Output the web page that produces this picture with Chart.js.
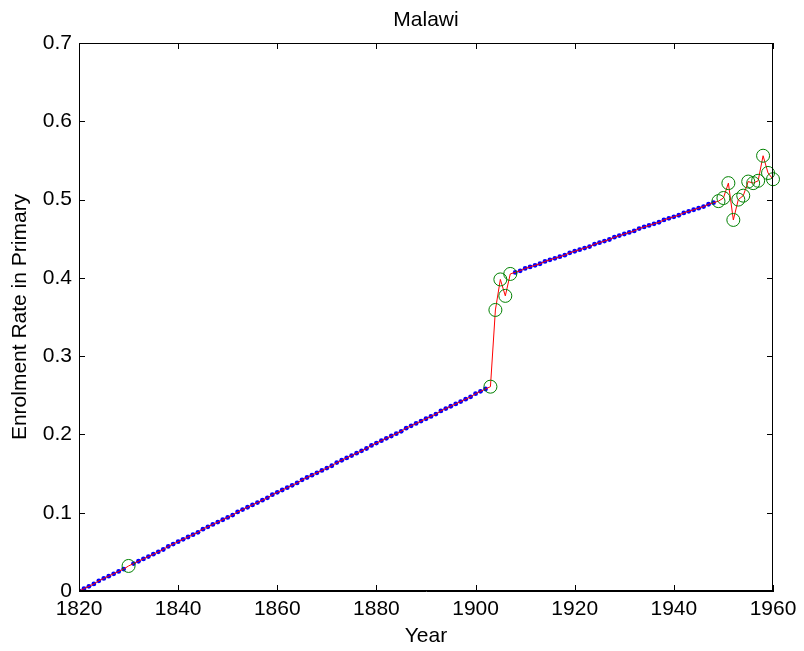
<!DOCTYPE html>
<html>
<head>
<meta charset="utf-8">
<script src="https://cdn.jsdelivr.net/npm/chart.js@4/dist/chart.umd.min.js"></script>
<style>
  html, body { margin: 0; padding: 0; background: #fff; }
  #wrap { width: 804px; height: 651px; }
</style>
</head>
<body>
<div id="wrap"><canvas id="c" width="804" height="651"></canvas></div>
<script>
// Observed enrolment rates (green circles)
const obsYears = [1830, 1903, 1904, 1905, 1906, 1907, 1949, 1950, 1951, 1952,
                  1953, 1954, 1955, 1956, 1957, 1958, 1959, 1960];
const obsValues = [0.032, 0.261, 0.359, 0.398, 0.377, 0.405, 0.498, 0.502, 0.521, 0.474,
                   0.500, 0.505, 0.523, 0.521, 0.524, 0.556, 0.534, 0.526];

// Filled-in yearly values (blue dots), first run starts 1820, second starts 1908
const fillStart1 = 1820;
const fillValues1 = [
  0.000, 0.003, 0.006, 0.009, 0.013, 0.016, 0.019, 0.022, 0.025, 0.028,
  0.031, 0.035, 0.038, 0.041, 0.044, 0.047, 0.050, 0.053, 0.057, 0.060,
  0.063, 0.066, 0.069, 0.072, 0.075, 0.079, 0.082, 0.085, 0.088, 0.091,
  0.094, 0.097, 0.101, 0.104, 0.107, 0.110, 0.113, 0.116, 0.119, 0.123,
  0.126, 0.129, 0.132, 0.135, 0.138, 0.142, 0.145, 0.148, 0.151, 0.154,
  0.157, 0.160, 0.164, 0.167, 0.170, 0.173, 0.176, 0.179, 0.182, 0.186,
  0.189, 0.192, 0.195, 0.198, 0.201, 0.204, 0.208, 0.211, 0.214, 0.217,
  0.220, 0.223, 0.226, 0.230, 0.233, 0.236, 0.239, 0.242, 0.245, 0.248,
  0.252, 0.255, 0.258
];
const fillStart2 = 1908;
const fillValues2 = [
  0.407, 0.409, 0.412, 0.414, 0.416, 0.418, 0.421, 0.423, 0.425, 0.427,
  0.429, 0.432, 0.434, 0.436, 0.438, 0.440, 0.443, 0.445, 0.447, 0.449,
  0.452, 0.454, 0.456, 0.458, 0.460, 0.463, 0.465, 0.467, 0.469, 0.471,
  0.474, 0.476, 0.478, 0.480, 0.483, 0.485, 0.487, 0.489, 0.491, 0.494,
  0.496
];

const xTicks = [1820, 1840, 1860, 1880, 1900, 1920, 1940, 1960];
const yTicks = [0, 0.1, 0.2, 0.3, 0.4, 0.5, 0.6, 0.7];
const yTickLabels = ['0', '0.1', '0.2', '0.3', '0.4', '0.5', '0.6', '0.7'];

// build point lists
const obsPts = obsYears.map((yr, i) => ({x: yr, y: obsValues[i]}));
const fillPts = [];
fillValues1.forEach((v, i) => fillPts.push({x: fillStart1 + i, y: v}));
fillValues2.forEach((v, i) => fillPts.push({x: fillStart2 + i, y: v}));
const dotPts = fillPts.filter(p => obsYears.indexOf(p.x) < 0);
const linePts = dotPts.concat(obsPts).sort((a, b) => a.x - b.x);

const FONT = "'Liberation Sans', Arial, Helvetica, sans-serif";
const FSIZE = 21;

// box around the axes + inward ticks on all four sides (matlab look)
const frame = {
  id: 'frame',
  afterDraw(chart) {
    const {ctx, chartArea: a, scales} = chart;
    const x = scales.x, y = scales.y;
    const tl = 6;
    ctx.save();
    ctx.strokeStyle = '#000';
    ctx.lineWidth = 1;
    ctx.strokeRect(a.left + 0.5, a.top + 0.5, a.right - a.left - 1, a.bottom - a.top - 1);
    ctx.beginPath();
    xTicks.forEach(v => {
      const px = Math.round(x.getPixelForValue(v)) + 0.5;
      ctx.moveTo(px, a.bottom); ctx.lineTo(px, a.bottom - tl);
      ctx.moveTo(px, a.top); ctx.lineTo(px, a.top + tl);
    });
    yTicks.forEach(v => {
      const py = Math.round(y.getPixelForValue(v)) + 0.5;
      ctx.moveTo(a.left, py); ctx.lineTo(a.left + tl, py);
      ctx.moveTo(a.right, py); ctx.lineTo(a.right - tl, py);
    });
    ctx.stroke();
    ctx.restore();
  }
};

new Chart(document.getElementById('c'), {
  type: 'scatter',
  data: {
    datasets: [
      {
        label: 'observed',
        data: obsPts,
        order: 0,
        pointStyle: 'circle',
        pointRadius: 6.5,
        pointBorderWidth: 1,
        pointBorderColor: '#008000',
        pointBackgroundColor: 'rgba(0,0,0,0)',
        showLine: false,
        clip: false
      },
      {
        label: 'line',
        data: linePts,
        order: 1,
        showLine: true,
        borderColor: '#ff0000',
        borderWidth: 1,
        pointRadius: 0,
        tension: 0
      },
      {
        label: 'filled',
        data: dotPts,
        order: 2,
        showLine: false,
        pointRadius: 2.4,
        pointBorderWidth: 0,
        pointBackgroundColor: '#0000ff',
        pointBorderColor: '#0000ff'
      }
    ]
  },
  options: {
    responsive: false,
    animation: false,
    devicePixelRatio: 1,
    layout: { padding: { left: 0, right: 31, top: 0, bottom: 0 } },
    plugins: {
      legend: { display: false },
      tooltip: { enabled: false },
      title: {
        display: true,
        text: 'Malawi',
        fullSize: false,
        color: '#000',
        font: { family: FONT, size: FSIZE, weight: 'normal', lineHeight: 1.2 },
        padding: { top: 7.5, bottom: 10.3 }
      }
    },
    scales: {
      x: {
        type: 'linear',
        min: 1820,
        max: 1960,
        afterBuildTicks: s => { s.ticks = xTicks.map(v => ({value: v})); },
        afterFit: s => { s.height = 60; },
        ticks: {
          color: '#000',
          padding: 6,
          maxRotation: 0,
          font: { family: FONT, size: FSIZE, lineHeight: 1.2 },
          callback: v => String(v)
        },
        grid: { display: false, drawTicks: false },
        border: { display: true, color: '#000', width: 1 },
        title: {
          display: true,
          text: 'Year',
          color: '#000',
          font: { family: FONT, size: FSIZE, lineHeight: 1.2 },
          padding: { top: 0, bottom: 2.4 }
        }
      },
      y: {
        type: 'linear',
        min: 0,
        max: 0.7,
        afterBuildTicks: s => { s.ticks = yTicks.map(v => ({value: v})); },
        afterFit: s => { s.width = 79; },
        ticks: {
          color: '#000',
          padding: 7,
          font: { family: FONT, size: FSIZE, lineHeight: 1.2 },
          callback: (v, i) => yTickLabels[i]
        },
        grid: { display: false, drawTicks: false },
        border: { display: true, color: '#000', width: 1 },
        title: {
          display: true,
          text: 'Enrolment Rate in Primary',
          color: '#000',
          font: { family: FONT, size: FSIZE, lineHeight: 1.2 },
          padding: { top: 8, bottom: 0 }
        }
      }
    }
  },
  plugins: [frame]
});
</script>
</body>
</html>
